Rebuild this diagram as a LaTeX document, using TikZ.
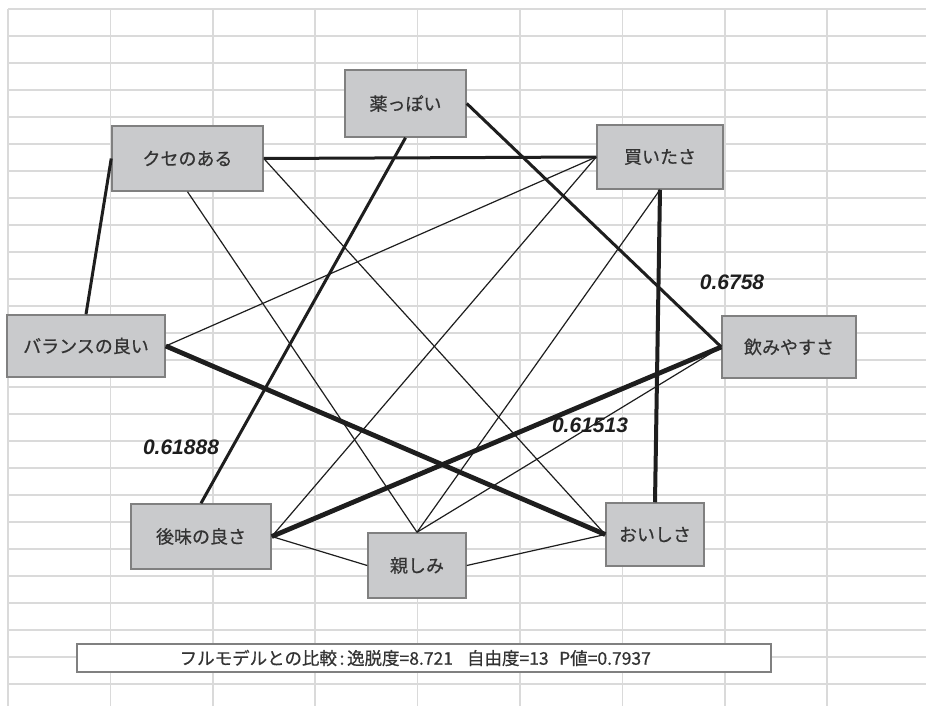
\documentclass[tikz,border=0pt]{standalone}
\usepackage{fontspec}
\newfontfamily\jp[FakeBold=0.6]{Noto Sans CJK JP}
\newfontfamily\numf{Liberation Sans}
\definecolor{gridc}{HTML}{DADADA}
\definecolor{boxfill}{HTML}{C9CACC}
\definecolor{boxline}{HTML}{808080}
\definecolor{edgec}{HTML}{1E1E1E}
\definecolor{labc}{HTML}{333333}
\tikzset{
  fbox/.style={draw=boxline, line width=1.5pt, fill=boxfill, inner sep=0pt,
    font=\jp\fontsize{18}{21}\selectfont, text=labc},
  thinE/.style={draw=edgec, line width=1.2pt},
  midE/.style={draw=edgec, line width=3pt},
  thkE/.style={draw=edgec, line width=4pt},
  hvyE/.style={draw=edgec, line width=4.8pt},
  coef/.style={font=\numf\bfseries\itshape\fontsize{21}{24}\selectfont, text=edgec, inner sep=0pt}
}
\begin{document}
\begin{tikzpicture}[x=1pt,y=-1pt]
\useasboundingbox (0,0) rectangle (926,706);
\fill[white] (0,0) rectangle (926,706);
% spreadsheet grid
\foreach \k in {0,...,25} {\draw[gridc, line width=1.5pt] (8,{9+27*\k}) -- (926,{9+27*\k});}
\foreach \k in {0,...,8} {\draw[gridc, line width=1.5pt] ({8+102.4*\k},9) -- ({8+102.4*\k},706);}
% nodes
\node[fbox, minimum width=151pt, minimum height=65pt] (kuse) at (187.5,158.5) {クセのある};
\node[fbox, minimum width=121pt, minimum height=67pt] (kusuri) at (405.5,103.5) {薬っぽい};
\node[fbox, minimum width=126pt, minimum height=64pt] (kai) at (660,157) {買いたさ};
\node[fbox, minimum width=158pt, minimum height=62pt] (bal) at (86,346) {バランスの良い};
\node[fbox, minimum width=134pt, minimum height=62pt] (nomi) at (789,347) {飲みやすさ};
\node[fbox, minimum width=140pt, minimum height=65pt] (ato) at (201,536.5) {後味の良さ};
\node[fbox, minimum width=98pt, minimum height=65pt] (shita) at (417,565.5) {親しみ};
\node[fbox, minimum width=98pt, minimum height=63pt] (oishi) at (655,534.5) {おいしさ};
\node[draw=boxline, line width=1.5pt, fill=white, minimum width=694pt, minimum height=28pt, inner sep=0pt,
  font=\jp\fontsize{17.5}{19}\selectfont, text=labc] (fit) at (424,658)
  {\hspace{-1em}フルモデルとの比較\hspace{0.15em}:\hspace{0.15em}逸脱度=8.721\hspace{0.8em}自由度=13\hspace{0.6em}P値=0.7937};
% connectors
\draw[midE] (kuse.west) -- (bal.north);
\draw[midE] (kuse.east) -- (kai.west);
\draw[thinE] (kuse.south) -- (shita.north);
\draw[thinE] (kuse.east) -- (oishi.west);
\draw[midE] (kusuri.south) -- (ato.north);
\draw[midE] (kusuri.east) -- (nomi.west);
\draw[thkE] (kai.south) -- (oishi.north);
\draw[thinE] (kai.west) -- (bal.east);
\draw[thinE] (kai.west) -- (ato.east);
\draw[thinE] (kai.south) -- (shita.north);
\draw[hvyE] (bal.east) -- (oishi.west);
\draw[hvyE] (nomi.west) -- (ato.east);
\draw[thinE] (nomi.west) -- (shita.north);
\draw[thinE] (ato.east) -- (shita.west);
\draw[thinE] (shita.east) -- (oishi.west);
% coefficients
\node[coef] (c1) at (732,282) {0.6758};
\node[coef] (c2) at (181,447) {0.61888};
\node[coef] (c3) at (590,425) {0.61513};
\end{tikzpicture}
\end{document}
